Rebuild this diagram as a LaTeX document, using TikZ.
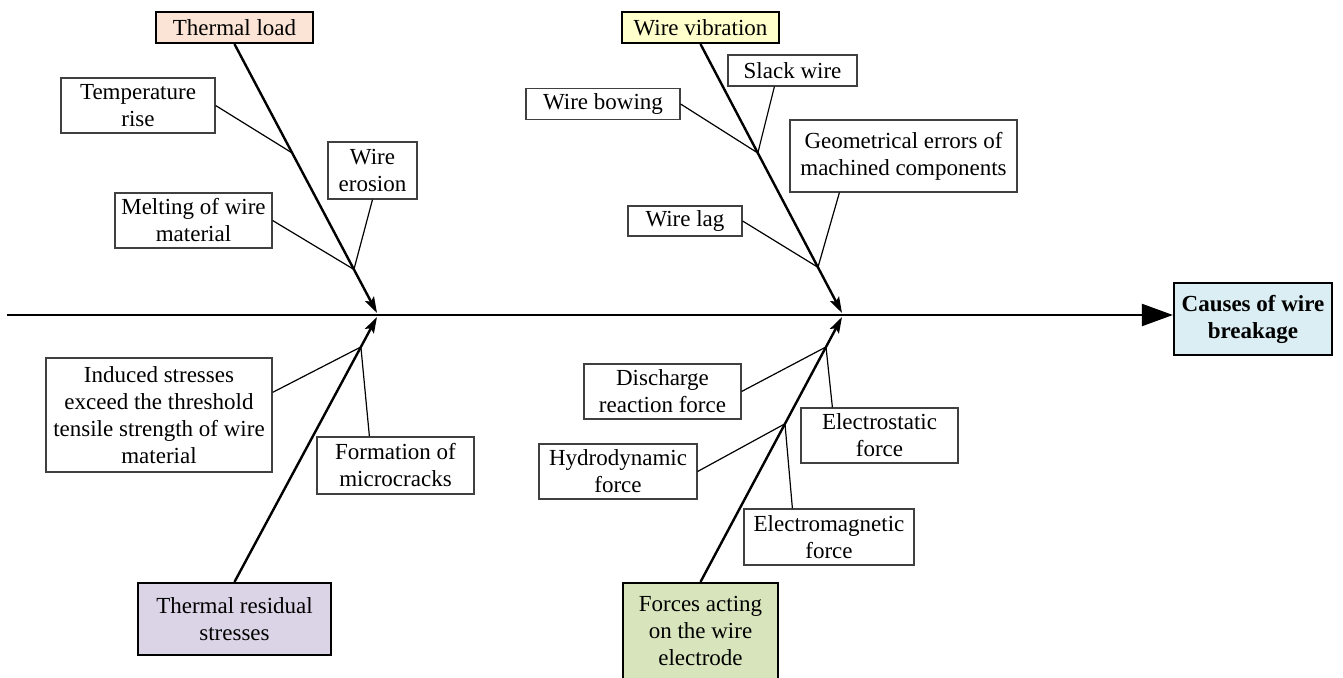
\documentclass[tikz,border=0pt]{standalone}
\usepackage{fontspec}
\setmainfont{Liberation Serif}
\usetikzlibrary{arrows.meta,calc}
\definecolor{peach}{HTML}{FBE4D5}
\definecolor{paleyellow}{HTML}{FFFFCC}
\definecolor{lavender}{HTML}{DAD4E6}
\definecolor{sage}{HTML}{D8E4BC}
\definecolor{iceblue}{HTML}{DAEEF3}
\begin{document}
\begin{tikzpicture}[x=1pt,y=-1pt,
  every node/.style={font=\fontsize{23}{27}\selectfont, align=center, inner sep=0pt},
  cause/.style={draw=black!75, line width=1.2pt, fill=white},
  category/.style={draw=black, line width=2.2pt},
  twig/.style={line width=1.2pt},
  bone/.style={line width=2.4pt, -{Stealth[length=16pt,width=10pt,inset=3pt]}},
  spine/.style={line width=2.2pt, -{Triangle[length=31pt,width=22pt]}}
]
\useasboundingbox (0,0) rectangle (1343,677);
\clip (0,0) rectangle (1343,677);

% effect
\node[category, fill=iceblue, minimum width=158, minimum height=72, font=\fontsize{23}{27}\selectfont\bfseries]
  (effect) at (1253,319) {Causes of wire\\breakage};

% category boxes
\node[category, fill=peach, minimum width=157, minimum height=31] (thermal) at (234.5,27.5) {Thermal load};
\node[category, fill=paleyellow, minimum width=157, minimum height=31] (vibration) at (700.5,27.5) {Wire vibration};
\node[category, fill=lavender, minimum width=193, minimum height=72] (residual) at (234.5,619) {Thermal residual\\stresses};
\node[category, fill=sage, minimum width=155, minimum height=96] (forces) at (700.5,631) {Forces acting\\on the wire\\electrode};

% spine and bone tips
\coordinate (tail) at (7,315);
\coordinate (tipA) at (377,313);
\coordinate (tipAb) at (377,317);
\coordinate (tipB) at (842,313);
\coordinate (tipBb) at (842,317);
\draw[spine] (tail) -- (tail -| effect.west);

\draw[bone] (thermal.south) -- (tipA);
\draw[bone] (residual.north) -- (tipAb);
\draw[bone] (vibration.south) -- (tipB);
\draw[bone] (forces.north) -- (tipBb);

% junctions on the bones
\coordinate (jT1) at ($(thermal.south)!0.405!(tipA)$);
\coordinate (jT2) at ($(thermal.south)!0.838!(tipA)$);
\coordinate (jV1) at ($(vibration.south)!0.405!(tipB)$);
\coordinate (jV2) at ($(vibration.south)!0.830!(tipB)$);
\coordinate (jR)  at ($(residual.north)!0.887!(tipAb)$);
\coordinate (jF1) at ($(forces.north)!0.887!(tipBb)$);
\coordinate (jF2) at ($(forces.north)!0.597!(tipBb)$);

% thermal load causes
\node[cause, minimum width=154, minimum height=55] (temprise) at (138,105.5) {Temperature\\rise};
\node[cause, minimum width=89, minimum height=57] (erosion) at (372.5,170.5) {Wire\\erosion};
\node[cause, minimum width=157, minimum height=55] (melting) at (193.5,220.5) {Melting of wire\\material};
\draw[twig] (temprise.east) -- (jT1);
\draw[twig] (melting.east) -- (jT2);
\draw[twig] (erosion.south) -- (jT2);

% wire vibration causes
\node[cause, minimum width=129, minimum height=31] (slack) at (792.5,70.5) {Slack wire};
\node[cause, minimum width=154, minimum height=31] (bowing) at (603,104) {Wire bowing};
\node[cause, minimum width=227, minimum height=72] (geom) at (903.5,156) {Geometrical errors of\\machined components};
\node[cause, minimum width=114, minimum height=30] (lag) at (685,221) {Wire lag};
\draw[twig] (bowing.east) -- (jV1);
\draw[twig] ([xshift=47pt]slack.south west) -- (jV1);
\draw[twig] (lag.east) -- (jV2);
\draw[twig] ([xshift=50pt]geom.south west) -- (jV2);

% thermal residual stress causes
\node[cause, minimum width=226, minimum height=114] (induced) at (159,415) {Induced stresses\\exceed the threshold\\tensile strength of wire\\material};
\node[cause, minimum width=157, minimum height=57] (micro) at (395.5,465.5) {Formation of\\microcracks};
\draw[twig] ([yshift=-35pt]induced.north east) -- (jR);
\draw[twig] ([xshift=53pt]micro.north west) -- (jR);

% force causes
\node[cause, minimum width=157, minimum height=55] (discharge) at (662.5,391.5) {Discharge\\reaction force};
\node[cause, minimum width=157, minimum height=55] (electrostatic) at (879.5,435.5) {Electrostatic\\force};
\node[cause, minimum width=158, minimum height=55] (hydro) at (618,471.5) {Hydrodynamic\\force};
\node[cause, minimum width=170, minimum height=56] (electromag) at (829,537) {Electromagnetic\\force};
\draw[twig] (discharge.east) -- (jF1);
\draw[twig] ([xshift=32pt]electrostatic.north west) -- (jF1);
\draw[twig] (hydro.east) -- (jF2);
\draw[twig] ([xshift=49pt]electromag.north west) -- (jF2);
\end{tikzpicture}
\end{document}
